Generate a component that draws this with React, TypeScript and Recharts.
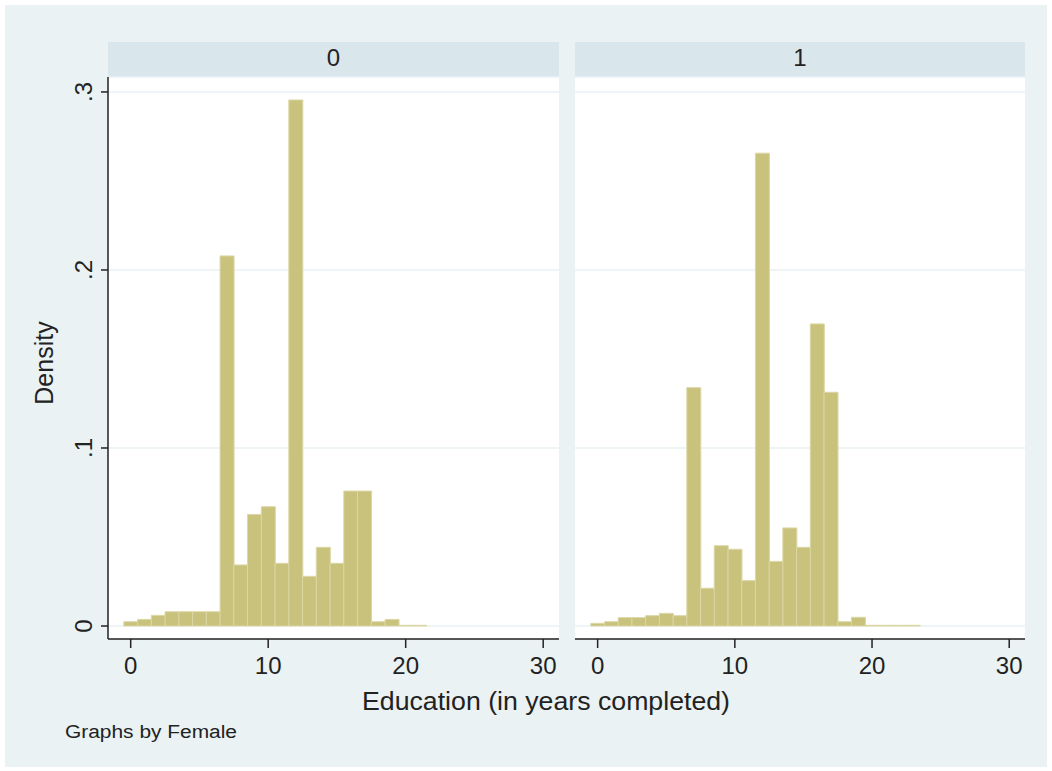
import React from 'react';
import { BarChart, Bar, XAxis, YAxis, CartesianGrid } from 'recharts';

const eduYears0 = [0, 1, 2, 3, 4, 5, 6, 7, 8, 9, 10, 11, 12, 13, 14, 15, 16, 17, 18, 19, 20, 21];
const density0 = [0.0024, 0.0037, 0.006, 0.008, 0.008, 0.008, 0.008, 0.2079, 0.0343, 0.0627, 0.067, 0.0352, 0.2955, 0.0279, 0.0442, 0.0352, 0.0758, 0.0758, 0.0024, 0.0037, 0.0004, 0.0004];

const eduYears1 = [0, 1, 2, 3, 4, 5, 6, 7, 8, 9, 10, 11, 12, 13, 14, 15, 16, 17, 18, 19, 20, 21, 22, 23];
const density1 = [0.0015, 0.0024, 0.0047, 0.0047, 0.0058, 0.0071, 0.0058, 0.1339, 0.0212, 0.0451, 0.0431, 0.0255, 0.2656, 0.0363, 0.0551, 0.0442, 0.1697, 0.1313, 0.0024, 0.0049, 0.0004, 0.0004, 0.0004, 0.0004];

const xTicks = [0, 10, 20, 30];
const yTicks = [0, 0.1, 0.2, 0.3];
const panelLabels = ['0', '1'];

const FONT = '"Liberation Sans", Arial, sans-serif';
const BG = '#EAF2F3';
const STRIP = '#D9E6EB';
const BAR = '#C9C27D';
const BAR_EDGE = '#DCD7A6';
const INK = '#222';

const X_DOMAIN: [number, number] = [-1.65, 31.15];
const Y_DOMAIN: [number, number] = [-0.0073, 0.3084];

const data0 = eduYears0.map((e, i) => ({ edu: e, density: density0[i] }));
const data1 = eduYears1.map((e, i) => ({ edu: e, density: density1[i] }));

const fmtY = (v: number) => (v === 0 ? '0' : String(v).replace(/^0/, ''));

const YTick = (props: any) => {
  const { x, y, payload } = props;
  return (
    <text
      x={x}
      y={y}
      transform={`rotate(-90 ${x} ${y})`}
      textAnchor="middle"
      fontSize={24}
      fontFamily={FONT}
      fill={INK}
    >
      {fmtY(payload.value)}
    </text>
  );
};

const Panel: React.FC<{ data: any[]; showY: boolean; width: number; marginLeft: number; marginRight: number }> = ({
  data,
  showY,
  width,
  marginLeft,
  marginRight,
}) => (
  <BarChart
    width={width}
    height={700}
    data={data}
    margin={{ top: 77, right: marginRight, left: marginLeft, bottom: 11 }}
    barCategoryGap={0}
    barGap={0}
  >
    <CartesianGrid vertical={false} stroke={BG} strokeWidth={1.5} fill="#fff" fillOpacity={1} />
    <XAxis
      dataKey="edu"
      type="number"
      domain={X_DOMAIN}
      allowDataOverflow
      ticks={xTicks}
      interval={0}
      height={50}
      tickSize={9}
      tickMargin={9}
      axisLine={{ stroke: INK, strokeWidth: 1.5 }}
      tickLine={{ stroke: INK, strokeWidth: 1.5 }}
      tick={{ fontSize: 24, fill: INK, fontFamily: FONT }}
    />
    <YAxis
      hide={!showY}
      type="number"
      domain={Y_DOMAIN}
      allowDataOverflow
      ticks={yTicks}
      interval={0}
      width={48}
      tickSize={7}
      tickMargin={9}
      axisLine={{ stroke: INK, strokeWidth: 1.5 }}
      tickLine={{ stroke: INK, strokeWidth: 1.5 }}
      tick={<YTick />}
    />
    <Bar dataKey="density" fill={BAR} stroke={BAR_EDGE} strokeWidth={1} isAnimationActive={false} />
  </BarChart>
);

export default function App() {
  return (
    <div style={{ position: 'absolute', left: 0, top: 0, width: 1052, height: 771, background: '#fff', fontFamily: FONT }}>
      <div style={{ position: 'absolute', left: 5, top: 5, width: 1042, height: 762, background: BG }} />
      <div style={{ position: 'absolute', left: 108, top: 42, width: 451, height: 35, background: STRIP }} />
      <div style={{ position: 'absolute', left: 575, top: 42, width: 450, height: 35, background: STRIP }} />
      <div style={{ position: 'absolute', left: 0, top: 0 }}>
        <Panel data={data0} showY width={570} marginLeft={60} marginRight={11} />
      </div>
      <div style={{ position: 'absolute', left: 565, top: 0 }}>
        <Panel data={data1} showY={false} width={470} marginLeft={10} marginRight={10} />
      </div>
      <svg
        width={1052}
        height={771}
        style={{ position: 'absolute', left: 0, top: 0, pointerEvents: 'none' }}
        fontFamily={FONT}
        fill={INK}
      >
        <text x={333.5} y={66} textAnchor="middle" fontSize={24}>{panelLabels[0]}</text>
        <text x={800} y={66} textAnchor="middle" fontSize={24}>{panelLabels[1]}</text>
        <text x={53} y={363} transform="rotate(-90 53 363)" textAnchor="middle" fontSize={25}>Density</text>
        <text x={546} y={710} textAnchor="middle" fontSize={25} textLength={368} lengthAdjust="spacingAndGlyphs">
          Education (in years completed)
        </text>
        <text x={65} y={738} fontSize={18} textLength={172} lengthAdjust="spacingAndGlyphs">Graphs by Female</text>
      </svg>
    </div>
  );
}
